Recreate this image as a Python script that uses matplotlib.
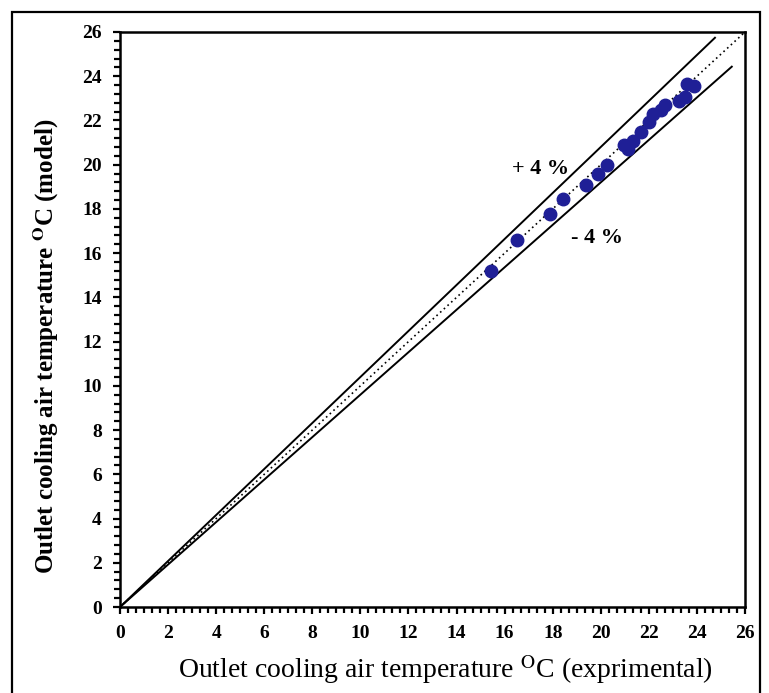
#!/usr/bin/env python3
"""Outlet cooling air temperature: model vs experimental, with +/-4 % bands."""
import matplotlib

matplotlib.use("Agg")
import matplotlib.pyplot as plt
import numpy as np
from matplotlib.patches import Rectangle
from matplotlib.ticker import MultipleLocator

# measured (experimental) vs model outlet temperatures, degC
t_exp = [15.42, 16.53, 17.89, 18.41, 19.38, 19.87, 20.27,
         20.96, 21.15, 21.35, 21.66, 22.02, 22.18, 22.49, 22.67,
         23.27, 23.50, 23.60, 23.88]
t_model = [15.19, 16.58, 17.75, 18.46, 19.07, 19.60, 19.97,
           20.88, 20.73, 21.07, 21.48, 21.93, 22.31, 22.49, 22.69,
           22.89, 23.07, 23.64, 23.55]

band = 0.04
upper_x = [0.0, 24.75]
lower_x = [0.0, 25.45]
diag_x = [0.0, 26.0]

plt.rcParams["font.family"] = ["Liberation Serif", "DejaVu Serif"]
plt.rcParams["mathtext.fontset"] = "stix"

fig = plt.figure(figsize=(7.69, 6.93), dpi=100)
ax = fig.add_axes([120 / 769, 86 / 693, 625 / 769, 575 / 693])

# outer frame round the figure
fig.patches.append(Rectangle((12 / 769, -0.2), 748 / 769, 1.2 - 12 / 693,
                             transform=fig.transFigure, fill=False,
                             lw=1.6, ec="black"))

ux = np.array(upper_x)
lx = np.array(lower_x)
ax.plot(ux, ux * (1 + band), color="black", lw=1.4)
ax.plot(lx, lx * (1 - band), color="black", lw=1.4)
ax.plot(diag_x, diag_x, color="black", lw=1.2, ls=(0, (1, 2)))
ax.plot(t_exp, t_model, "o", color="#1f1f96", ms=9, mec="#1f1f96")

ax.text(17.5, 19.8, "+ 4 %", fontsize=16, fontweight="bold",
        ha="center", va="center")
ax.text(19.85, 16.7, "- 4 %", fontsize=16, fontweight="bold",
        ha="center", va="center")

ax.set_xlim(0, 26)
ax.set_ylim(0, 26)
ax.xaxis.set_major_locator(MultipleLocator(2))
ax.xaxis.set_minor_locator(MultipleLocator(2 / 6))
ax.yaxis.set_major_locator(MultipleLocator(2))
ax.yaxis.set_minor_locator(MultipleLocator(0.4))
ax.tick_params(which="both", direction="out", width=1.6, top=False, right=False)
ax.tick_params(which="major", length=5, labelsize=14)
ax.tick_params(axis="x", which="major", pad=8)
ax.tick_params(axis="y", which="major", pad=8)
ax.tick_params(which="minor", length=4)
for lab in ax.get_xticklabels() + ax.get_yticklabels():
    lab.set_fontweight("bold")
for sp in ax.spines.values():
    sp.set_linewidth(1.8)

ax.set_xlabel(r"Outlet cooling air temperature $^{\mathrm{O}}$C (exprimental)",
              fontsize=20)
ax.set_ylabel(r"Outlet cooling air temperature $^{\mathbf{O}}$C (model)",
              fontsize=18, fontweight="bold")
ax.xaxis.set_label_coords(0.52, -0.08)
ax.yaxis.set_label_coords(-0.095, 0.454)

fig.savefig("out.png", dpi=100)
plt.close(fig)
